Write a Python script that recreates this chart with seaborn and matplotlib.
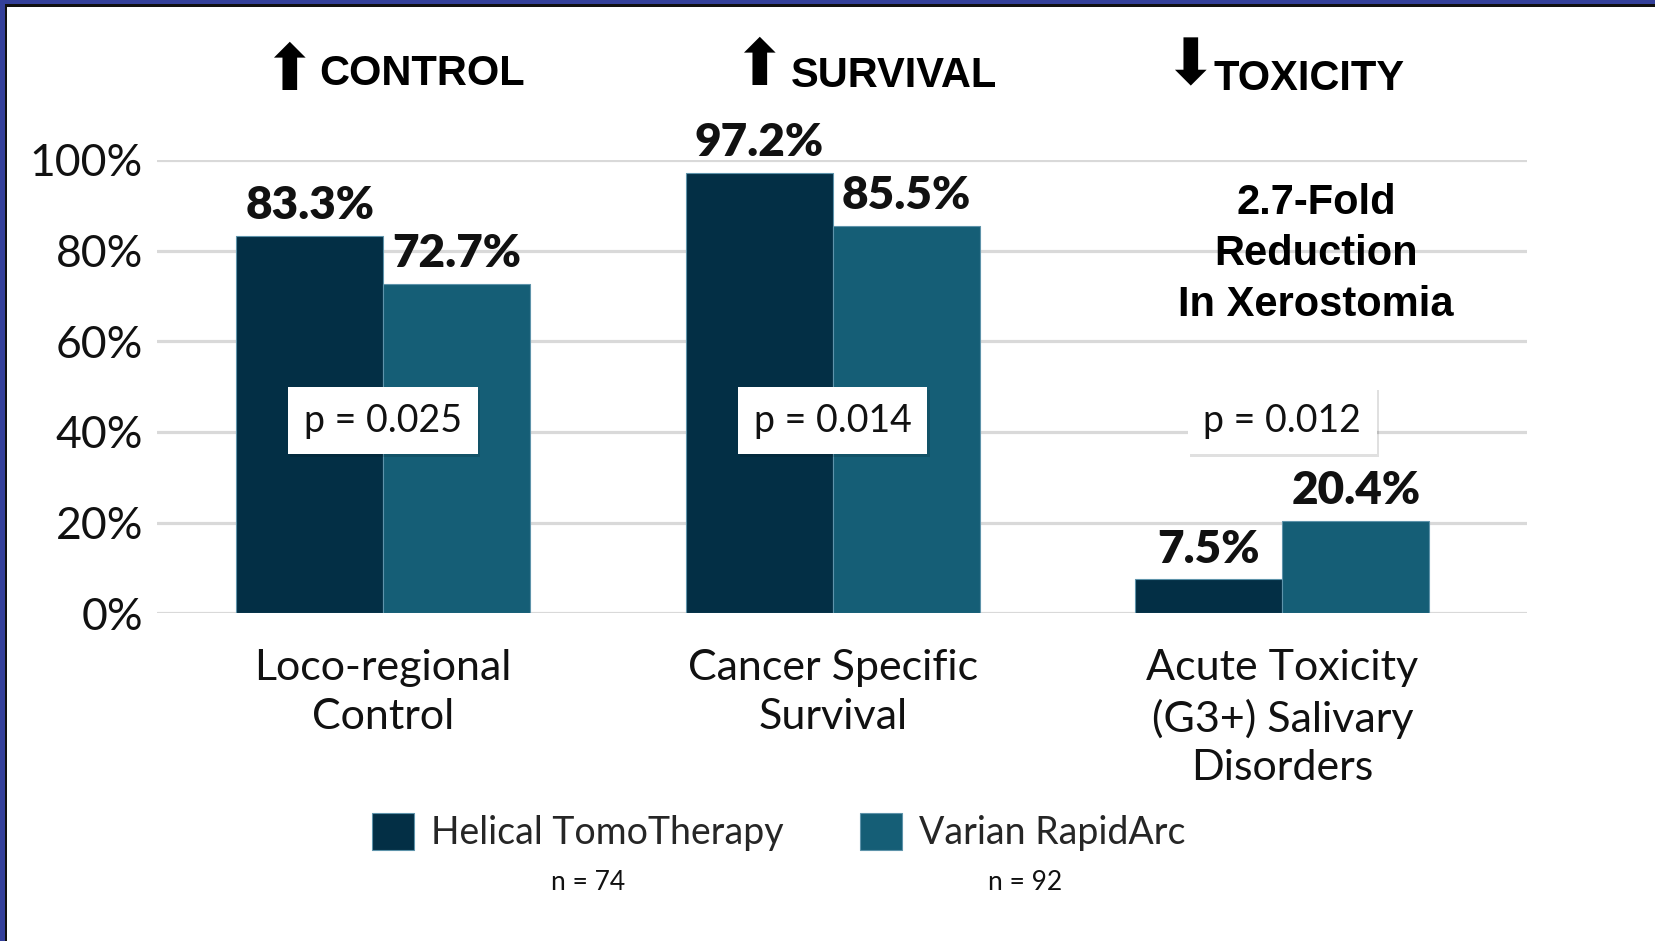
import matplotlib
matplotlib.use("Agg")
import matplotlib.pyplot as plt
import matplotlib.patheffects as pe
from matplotlib.patches import Rectangle
from matplotlib import font_manager as fm
import seaborn as sns
import pandas as pd

# ---------------- data ----------------
categories = ["Loco-regional\nControl", "Cancer Specific\nSurvival",
              "Acute Toxicity\n(G3+) Salivary\nDisorders"]
series = ["Helical TomoTherapy", "Varian RapidArc"]
helical = [83.3, 97.2, 7.5]
varian = [72.7, 85.5, 20.4]
p_values = ["p = 0.025", "p = 0.014", "p = 0.012"]
sample_sizes = ["n = 74", "n = 92"]
headers = ["CONTROL", "SURVIVAL", "TOXICITY"]
header_arrows = ["\u2B06", "\u2B06", "\u2B07"]
yticks = [0, 20, 40, 60, 80, 100]
ytick_labels = ["0%", "20%", "40%", "60%", "80%", "100%"]
note = "2.7-Fold\nReduction\nIn Xerostomia"
colors = ["#032F45", "#155E76"]

# ---------------- layout helpers ----------------
W, H = 1656, 941
def fx(x):
    return x / W
def fy(y):
    return 1 - y / H

sns.set_theme(style="white")
plt.rcParams['font.family'] = ['Lato', 'DejaVu Sans']

names = {f.name for f in fm.fontManager.ttflist}
legend_family = 'Liberation Sans Narrow' if 'Liberation Sans Narrow' in names else 'Lato'

fig = plt.figure(figsize=(W / 100, H / 100), dpi=100)
fig.patch.set_facecolor("white")

# slide frame (top / left edge)
fig.add_artist(Rectangle((0, fy(4)), 1, 4 / H, transform=fig.transFigure, fc="#34409A", ec="none"))
fig.add_artist(Rectangle((0, fy(6.5)), 1, 2.5 / H, transform=fig.transFigure, fc="#111111", ec="none"))
fig.add_artist(Rectangle((0, 0), 5 / W, 1, transform=fig.transFigure, fc="#34409A", ec="none"))
fig.add_artist(Rectangle((fx(5), 0), 2.5 / W, fy(4), transform=fig.transFigure, fc="#111111", ec="none"))

ax = fig.add_axes([fx(157), fy(613.3), fx(1527) - fx(157), fy(160) - fy(613.3)])

df = pd.DataFrame({
    "category": categories * 2,
    "series": [series[0]] * len(categories) + [series[1]] * len(categories),
    "value": helical + varian,
})
sns.barplot(data=df, x="category", y="value", hue="series", order=categories,
            hue_order=series, palette=colors, width=0.654, gap=0, ax=ax,
            edgecolor="#5E93AA", linewidth=0.8, saturation=1, zorder=3)

ax.set_xlim(-0.503, 2.544)
ax.set_ylim(0, 100)
ax.set_axisbelow(True)
ax.yaxis.grid(True, color="#D9D9D9", lw=2.3)
ax.xaxis.grid(False)
for s in ax.spines.values():
    s.set_visible(False)
ax.set_xlabel("")
ax.set_ylabel("")
ax.set_yticks(yticks)
ax.set_yticklabels(ytick_labels, fontsize=32, color="#111111")
ax.tick_params(axis="y", length=0, pad=10)
ax.tick_params(axis="x", length=0, pad=26, labelsize=31, labelcolor="#111111")
for t in ax.get_xticklabels():
    t.set_linespacing(1.34)

# value labels
for cont in ax.containers:
    ax.bar_label(cont, fmt="%.1f%%", padding=7, fontsize=33, fontweight="heavy",
                 color="#111111")

# p-value boxes
for i, p in enumerate(p_values):
    t = ax.text(i, 42.5, p, ha="center", va="center", fontsize=27, color="#111111",
                zorder=6,
                bbox=dict(boxstyle="square,pad=0.42", fc="white", ec="none"))
    t.get_bbox_patch().set_path_effects([
        pe.SimplePatchShadow(offset=(1.5, -2), shadow_rgbFace="black", alpha=0.12),
        pe.Normal()])

# legend
handles, labels = ax.get_legend_handles_labels()
if ax.get_legend() is not None:
    ax.get_legend().remove()
lfs = 27
lpx = lfs * 100 / 72
fig.legend(handles, labels, ncol=2, loc="center left",
           bbox_to_anchor=(fx(372), fy(832)), frameon=False,
           prop={"family": legend_family, "size": lfs},
           handlelength=42 / lpx, handleheight=42 / lpx,
           handletextpad=17 / lpx, columnspacing=76 / lpx,
           borderpad=0, borderaxespad=0)
for xpos, s in zip([588, 1025], sample_sizes):
    fig.text(fx(xpos), fy(883), s, ha="center", va="center", fontsize=19,
             family=legend_family, color="#111111")

# headers
for (ax_x, ax_y), hx, hy, arrow, word in zip(
        [(288.5, 72), (759, 67), (1190, 66)], [319, 791, 1214], [85, 87, 90],
        header_arrows, headers):
    fig.text(fx(ax_x), fy(ax_y), arrow, ha="center", va="center", fontsize=46,
             family="DejaVu Sans", color="black")
    fig.text(fx(hx), fy(hy), word, ha="left", va="baseline", fontsize=30,
             fontweight="bold", family="Liberation Sans", color="black")

fig.text(fx(1316), fy(254), note, ha="center", va="center", fontsize=30,
         fontweight="bold", family="Liberation Sans", color="black",
         linespacing=1.35)

fig.savefig("out.png", dpi=100, facecolor="white")
